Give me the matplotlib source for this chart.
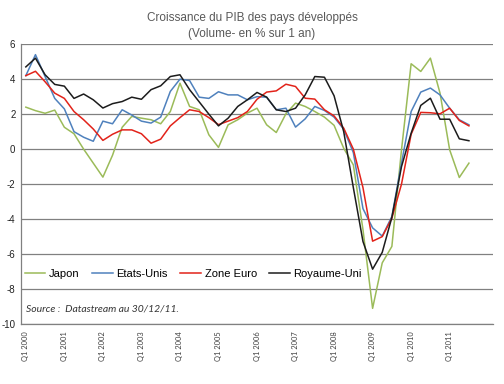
import matplotlib
matplotlib.use("Agg")
import matplotlib.pyplot as plt

# quarterly data, Q1 2000 .. Q3 2011
quarters = ["Q%d %d" % (q, y) for y in range(2000, 2012) for q in range(1, 5)][:47]

japon = [2.4, 2.2, 2.05, 2.23, 1.25, 0.88, 0.0, -0.8, -1.6, -0.35, 1.25, 1.87,
         1.77, 1.68, 1.45, 2.15, 3.77, 2.44, 2.25, 0.82, 0.1, 1.39, 1.68, 2.06,
         2.34, 1.39, 0.95, 2.02, 2.63, 2.44, 2.15, 1.83, 1.36, 0.05, -0.9, -4.6,
         -9.1, -6.5, -5.56, -0.04, 4.88, 4.44, 5.2, 3.2, -0.04, -1.62, -0.8]
etats_unis = [4.2, 5.4, 4.15, 2.9, 2.3, 1.0, 0.68, 0.45, 1.6, 1.45, 2.25, 1.95,
              1.6, 1.49, 1.83, 3.3, 4.0, 3.92, 2.97, 2.9, 3.28, 3.1, 3.1, 2.82,
              3.0, 2.97, 2.25, 2.34, 1.26, 1.73, 2.44, 2.21, 1.83, 1.14, -0.2, -3.4,
              -4.5, -4.97, -3.85, -0.8, 2.15, 3.26, 3.49, 3.1, 2.34, 1.68, 1.39]
zone_euro = [4.2, 4.45, 3.85, 3.2, 2.9, 2.15, 1.68, 1.15, 0.5, 0.85, 1.1, 1.1,
             0.88, 0.34, 0.57, 1.33, 1.8, 2.25, 2.15, 1.8, 1.4, 1.6, 1.8, 2.15,
             2.85, 3.26, 3.33, 3.71, 3.58, 2.91, 2.86, 2.25, 1.9, 1.2, 0.0, -2.2,
             -5.26, -5.0, -3.95, -2.0, 0.85, 2.1, 2.08, 2.02, 2.34, 1.64, 1.33]
royaume_uni = [4.7, 5.2, 4.25, 3.7, 3.6, 2.9, 3.15, 2.82, 2.35, 2.6, 2.72, 2.97,
               2.85, 3.4, 3.62, 4.15, 4.25, 3.4, 2.7, 2.0, 1.33, 1.77, 2.44, 2.82,
               3.24, 2.97, 2.25, 2.15, 2.34, 3.1, 4.15, 4.11, 3.05, 1.0, -2.2, -5.28,
               -6.86, -5.9, -3.9, -1.0, 0.91, 2.5, 2.91, 1.71, 1.71, 0.59, 0.48]

series = [("Japon", japon, "#9BBB59"),
          ("Etats-Unis", etats_unis, "#4F81BD"),
          ("Zone Euro", zone_euro, "#E2231A"),
          ("Royaume-Uni", royaume_uni, "#1C1C1C")]

plt.rcParams["font.family"] = ["Liberation Sans", "DejaVu Sans"]

fig = plt.figure(figsize=(5.04, 3.84), dpi=100)
ax = fig.add_axes([0.0417, 0.156, 0.9365, 0.729])

x = list(range(len(quarters)))
for name, vals, col in series:
    ax.plot(x, vals, color=col, lw=1.1, label=name)

ax.set_xlim(-0.5, 48.5)
ax.set_ylim(-10, 6)
ax.set_yticks(range(-10, 7, 2))
ax.set_yticklabels([str(v) for v in range(-10, 7, 2)], fontsize=7, color="#222222")
ax.set_xticks(x[::4])
ax.set_xticklabels(quarters[::4], rotation=90, fontsize=5.4, color="#404040",
                   family=["Lato", "DejaVu Sans"])
ax.tick_params(length=0)
ax.tick_params(axis="x", pad=5)
ax.tick_params(axis="y", pad=4)

ax.grid(axis="y", color="#808080", lw=0.9)
ax.set_axisbelow(True)
for s in ["top", "right"]:
    ax.spines[s].set_visible(False)
for s in ["left", "bottom"]:
    ax.spines[s].set_color("#808080")
    ax.spines[s].set_linewidth(0.9)

ax.legend(loc="center left", bbox_to_anchor=(0.008, 0.179), ncol=4, frameon=False,
          fontsize=8, handlelength=1.85, columnspacing=1.1, handletextpad=0.35,
          borderaxespad=0, borderpad=0)

ax.text(0.01, 0.045, "Source :  Datastream au 30/12/11.", transform=ax.transAxes,
        fontsize=7.5, style="italic", color="#333333", family=["Lato", "DejaVu Sans"])

fig.text(0.5, 0.968, "Croissance du PIB des pays développés\n(Volume- en % sur 1 an)",
         ha="center", va="top", fontsize=8.5, color="#595959", linespacing=1.45)

fig.savefig("out.png", dpi=100)
